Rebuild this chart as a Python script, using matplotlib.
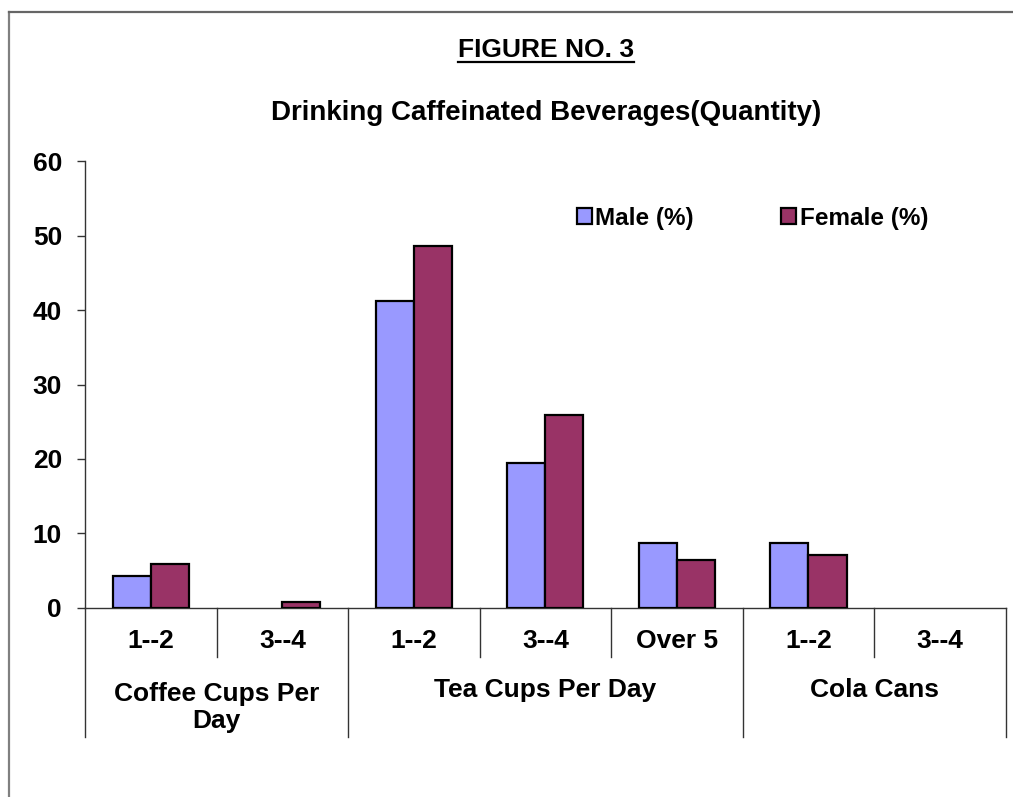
import matplotlib.pyplot as plt
from matplotlib.lines import Line2D
from matplotlib.patches import Patch
import matplotlib.transforms as mtransforms

plt.rcParams['font.family'] = ['Liberation Sans', 'DejaVu Sans']
plt.rcParams['font.weight'] = 'bold'

# Caffeinated drinks: share of men and women per quantity band
groups = ['Coffee Cups Per\nDay', 'Tea Cups Per Day', 'Cola Cans']
group_sizes = [2, 3, 2]
quantities = ['1--2', '3--4', '1--2', '3--4', 'Over 5', '1--2', '3--4']
male = [4.3, 0, 41.2, 19.4, 8.7, 8.7, 0]
female = [5.9, 0.7, 48.6, 25.9, 6.4, 7.1, 0]

male_color = '#9999FF'
female_color = '#993366'

W, H = 1013, 797
fig = plt.figure(figsize=(W / 100, H / 100), dpi=100)
ax = fig.add_axes([85 / W, 1 - 607.7 / H, 920.7 / W, 446.4 / H])

x = list(range(len(quantities)))
bw = 0.29
ax.bar([i - bw / 2 for i in x], male, width=bw, color=male_color,
       edgecolor='black', linewidth=[1.6 if v > 0 else 0 for v in male], zorder=3)
ax.bar([i + bw / 2 for i in x], female, width=bw, color=female_color,
       edgecolor='black', linewidth=[1.6 if v > 0 else 0 for v in female], zorder=3)

ax.set_xlim(-0.5, len(quantities) - 0.5)
ax.set_ylim(0, 60)
ax.set_yticks(range(0, 61, 10))
ax.tick_params(axis='y', length=5.5, width=1, color='#333333', pad=11,
               labelsize=19)
for lbl in ax.get_yticklabels():
    lbl.set_fontweight('bold')
ax.set_xticks([])
for s in ['top', 'right']:
    ax.spines[s].set_visible(False)
for s in ['left', 'bottom']:
    ax.spines[s].set_color('#333333')
    ax.spines[s].set_linewidth(1)

# two-level category axis
trans = mtransforms.blended_transform_factory(ax.transData, ax.transAxes)
px = 1 / 446.4
inner_bottom = -(656.7 - 607.7) * px
outer_bottom = -(736.7 - 607.7) * px

bounds = []
start = -0.5
for n in group_sizes:
    bounds.append(start)
    start += n
bounds.append(start)
for b in range(len(quantities) + 1):
    xb = b - 0.5
    yb = outer_bottom if xb in bounds else inner_bottom
    ax.plot([xb, xb], [0, yb], transform=trans, color='#333333', lw=1,
            clip_on=False)

for i, q in enumerate(quantities):
    ax.text(i, -(648.3 - 607.7) * px, q, transform=trans, ha='center',
            va='baseline', fontsize=19, fontweight='bold')

# baseline refers to the last line of a wrapped label
line_step = 31.5
for g, name in enumerate(groups):
    cx = (bounds[g] + bounds[g + 1]) / 2
    extra = name.count('\n') * line_step
    ax.text(cx, -(696.7 + extra - 607.7) * px, name, transform=trans,
            ha='center', va='baseline', fontsize=19, fontweight='bold',
            linespacing=1.15)

# titles
title = fig.text(546 / W, 1 - 56.7 / H, 'FIGURE NO. 3', ha='center',
                 va='baseline', fontsize=19, fontweight='bold')
fig.text(546 / W, 1 - 120 / H, 'Drinking Caffeinated Beverages(Quantity)',
         ha='center', va='baseline', fontsize=20, fontweight='bold')

fig.canvas.draw()
bb = title.get_window_extent()
fig.add_artist(Line2D([bb.x0 / W, bb.x1 / W], [1 - 61.7 / H, 1 - 61.7 / H],
                      transform=fig.transFigure, color='black', lw=1.6))

# legend
handles = [Patch(facecolor=male_color, edgecolor='black', lw=1.6),
           Patch(facecolor=female_color, edgecolor='black', lw=1.6)]
fig.legend(handles, ['Male (%)', 'Female (%)'], loc='center left',
           bbox_to_anchor=(577 / W, 1 - 218 / H), ncol=2, frameon=False,
           prop={'size': 17.5, 'weight': 'bold'}, handlelength=0.6,
           handleheight=0.6, handletextpad=0.15, columnspacing=3.6,
           borderpad=0, borderaxespad=0)

# outer chart border
fig.add_artist(Line2D([8.7 / W, 8.7 / W], [0, 1 - 12 / H],
                      transform=fig.transFigure, color='#808080', lw=1.6))
fig.add_artist(Line2D([8.7 / W, 1], [1 - 12 / H, 1 - 12 / H],
                      transform=fig.transFigure, color='#666666', lw=1.6))

fig.savefig('out.png', dpi=100)
